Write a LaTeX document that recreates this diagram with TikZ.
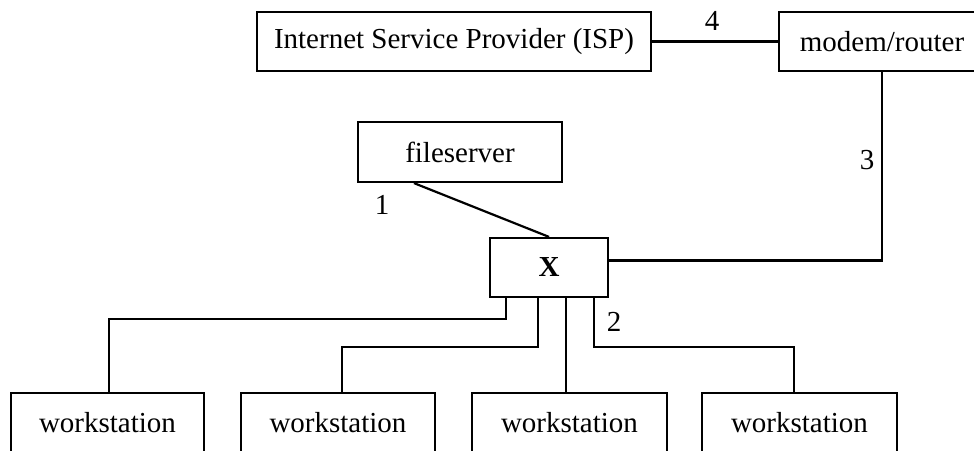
\documentclass[tikz,border=0pt]{standalone}
\usepackage{fontspec}
\setmainfont{Liberation Serif}
\begin{document}
\begin{tikzpicture}[x=1pt,y=-1pt,
  box/.style={draw,line width=2.2pt,inner sep=0pt,minimum height=59pt,font=\fontsize{29}{34}\selectfont},
  lbl/.style={inner sep=0pt,font=\fontsize{29}{34}\selectfont},
  conn/.style={line width=2.2pt}]
\useasboundingbox (0,0) rectangle (974,450);
\clip (0,0) rectangle (974,450);
\node[box,minimum width=394pt] (isp) at (454,41.5) {Internet Service Provider (ISP)};
\node[box,minimum width=206pt] (modem) at (882,41.5) {modem/router};
\node[box,minimum width=204pt,minimum height=60pt] (fs) at (460,152) {fileserver};
\node[box,minimum width=118pt] (X) at (549,267.5) {\textbf{X}};
\node[box,minimum width=193pt] (ws1) at (107.5,422.5) {workstation};
\node[box,minimum width=194pt] (ws2) at (338,422.5) {workstation};
\node[box,minimum width=195pt] (ws3) at (569.5,422.5) {workstation};
\node[box,minimum width=195pt] (ws4) at (799.5,422.5) {workstation};
\draw[conn] (isp.east) -- (modem.west);
\draw[conn] (modem.south) |- ([yshift=7pt]X.east);
\draw[conn] ([xshift=-46pt]fs.south) -- (X.north);
\draw[conn] ([xshift=-43pt]X.south) -- ++(0,21) -| ([xshift=1.5pt]ws1.north);
\draw[conn] ([xshift=-11pt]X.south) -- ++(0,49) -| ([xshift=4pt]ws2.north);
\coordinate (x3) at ([xshift=17pt]X.south);
\draw[conn] (x3) -- (x3 |- ws3.north);
\draw[conn] ([xshift=45pt]X.south) -- ++(0,49) -| ([xshift=-5.5pt]ws4.north);
\node[lbl] (l4) at (712,21) {4};
\node[lbl] (l3) at (867,160) {3};
\node[lbl] (l1) at (382,205) {1};
\node[lbl] (l2) at (614,322) {2};
\end{tikzpicture}
\end{document}
